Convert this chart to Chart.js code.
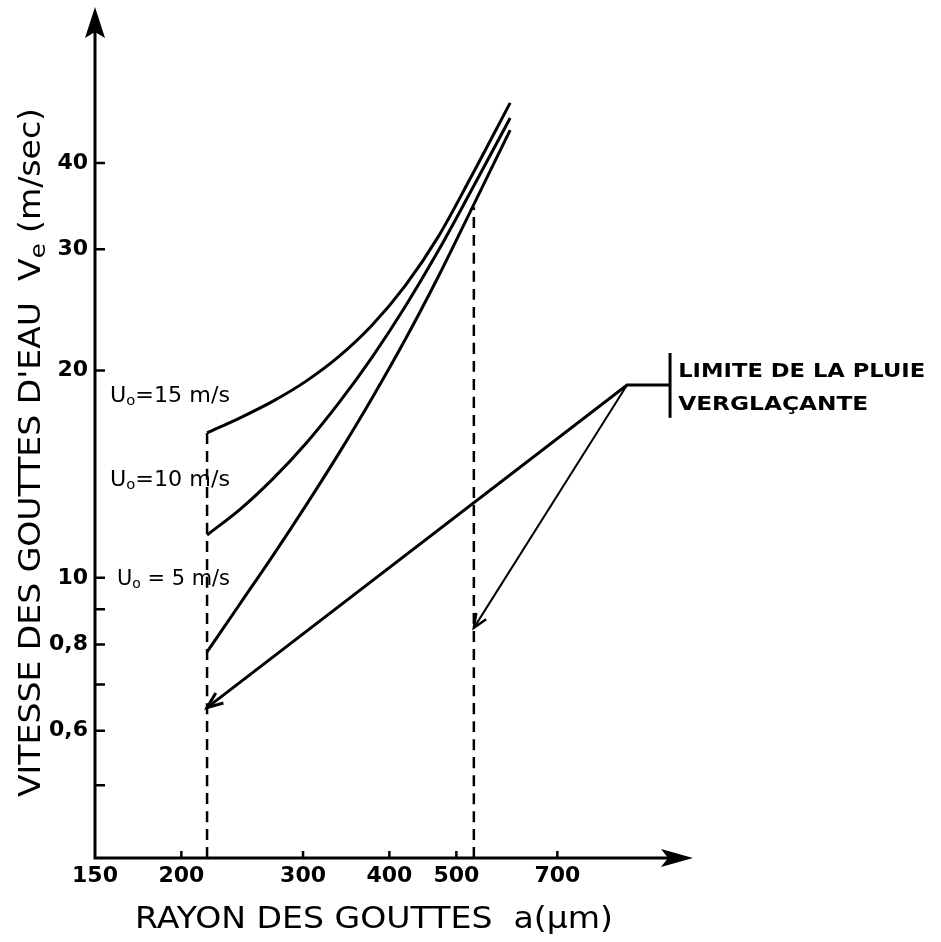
<!DOCTYPE html>
<html>
<head>
<meta charset="utf-8">
<script src="https://cdn.jsdelivr.net/npm/chart.js@4.4.1/dist/chart.umd.min.js"></script>
<style>
  html, body { margin: 0; padding: 0; background: #fff; }
  #wrap { width: 941px; height: 942px; position: relative; }
</style>
</head>
<body>
<div id="wrap"><canvas id="chart"></canvas></div>
<script>
// rayon a (µm) et vitesse Ve (m/s)
const radius    = [217.9, 243.2, 271.5, 303.1, 338.2, 377.5, 421.5, 470.3, 523.4, 598.2];
const speedU15  = [16.23, 17.07, 18.05, 19.30, 20.96, 23.26, 26.53, 31.23, 37.95, 48.92];
const speedU10  = [11.54, 12.57, 13.93, 15.68, 17.96, 20.90, 24.75, 29.78, 36.22, 46.50];
const speedU5   = [7.81, 9.17, 10.78, 12.75, 15.17, 18.23, 22.16, 27.31, 33.96, 44.67];

// limite de la pluie verglaçante
const limitRadius  = [217.9, 883, 1019];
const limitSpeed   = [6.48, 19.05, 19.05];
const branchRadius = [883, 530];
const branchSpeed  = [19.05, 8.46];
const barRadius    = [1019, 1019];
const barSpeed     = [17.07, 21.2];

// verticales en tirets
const dashLeftRadius  = [217.9, 217.9];
const dashLeftSpeed   = [3.92, 16.23];
const dashRightRadius = [530, 530];
const dashRightSpeed  = [3.92, 34.5];

// axes
const xTicks = [150, 200, 300, 400, 500, 700];
const yTicks = [5, 6, 7, 8, 9, 10, 20, 30, 40];
const yTickLabels = ['', '0,6', '', '0,8', '', '10', '20', '30', '40'];

const FONT = "'DejaVu Sans'";
const toPts = (xs, ys) => xs.map((x, i) => ({ x, y: ys[i] }));

const line = (data, extra) => Object.assign({
    data, borderColor: '#000', borderWidth: 3, pointRadius: 0,
    fill: false, cubicInterpolationMode: 'monotone'
}, extra || {});

// texte en plusieurs morceaux, étiré à une largeur donnée
function drawParts(ctx, parts, x, y, width) {
    let total = 0;
    parts.forEach(p => { ctx.font = p[1]; total += ctx.measureText(p[0]).width; });
    const k = width ? width / total : 1;
    ctx.save();
    ctx.translate(x, y);
    ctx.scale(k, 1);
    let cx = 0;
    parts.forEach(p => {
        ctx.font = p[1];
        ctx.fillText(p[0], cx, p[2] || 0);
        cx += ctx.measureText(p[0]).width;
    });
    ctx.restore();
}

function barbs(ctx, tip, from, len, ang) {
    const t = Math.atan2(tip.y - from.y, tip.x - from.x);
    ctx.beginPath();
    ctx.moveTo(tip.x - len * Math.cos(t - ang), tip.y - len * Math.sin(t - ang));
    ctx.lineTo(tip.x, tip.y);
    ctx.lineTo(tip.x - len * Math.cos(t + ang), tip.y - len * Math.sin(t + ang));
    ctx.stroke();
}

const decor = {
    id: 'decor',
    afterDraw(chart) {
        const { ctx, chartArea: a, scales: { x, y } } = chart;
        ctx.save();
        ctx.strokeStyle = '#000';
        ctx.fillStyle = '#000';
        ctx.lineWidth = 3;

        // axes + flèches
        ctx.beginPath();
        ctx.moveTo(a.left, a.bottom); ctx.lineTo(a.right - 20, a.bottom);
        ctx.moveTo(a.left, a.bottom + 1.5); ctx.lineTo(a.left, a.top + 20);
        ctx.stroke();
        ctx.beginPath();
        ctx.moveTo(a.right, a.bottom);
        ctx.lineTo(a.right - 32, a.bottom - 9);
        ctx.lineTo(a.right - 25, a.bottom);
        ctx.lineTo(a.right - 32, a.bottom + 9);
        ctx.closePath(); ctx.fill();
        ctx.beginPath();
        ctx.moveTo(a.left, a.top);
        ctx.lineTo(a.left - 10, a.top + 31);
        ctx.lineTo(a.left, a.top + 25);
        ctx.lineTo(a.left + 10, a.top + 31);
        ctx.closePath(); ctx.fill();

        // graduations vers l'intérieur
        ctx.lineWidth = 2.5;
        ctx.beginPath();
        yTicks.forEach(v => {
            const py = y.getPixelForValue(v);
            ctx.moveTo(a.left, py); ctx.lineTo(a.left + 10, py);
        });
        xTicks.slice(1).forEach(v => {
            const px = x.getPixelForValue(v);
            ctx.moveTo(px, a.bottom); ctx.lineTo(px, a.bottom - 7);
        });
        ctx.stroke();

        // pointes de flèche des limites
        const lim = chart.getDatasetMeta(3).data;
        ctx.lineWidth = 3;
        barbs(ctx, lim[0], lim[1], 17, 0.38);
        const br = chart.getDatasetMeta(4).data;
        ctx.lineWidth = 2.5;
        barbs(ctx, br[1], br[0], 15, 0.4);

        // textes
        ctx.textAlign = 'left';
        ctx.textBaseline = 'alphabetic';
        const fu = `21px ${FONT}`, fo = `14px ${FONT}`;
        const uLabels = [
            [157.7, 18.0, '=15 m/s', 120],
            [157.7, 13.6, '=10 m/s', 120],
            [161.4, 9.77, ' = 5 m/s', 113]
        ];
        uLabels.forEach(u => {
            drawParts(ctx, [['U', fu], ['o', fo, 3], [u[2], fu]],
                x.getPixelForValue(u[0]), y.getPixelForValue(u[1]), u[3]);
        });

        const fb = `bold 19px ${FONT}`;
        drawParts(ctx, [['LIMITE DE LA PLUIE', fb]],
            x.getPixelForValue(1047), y.getPixelForValue(19.6), 247);
        drawParts(ctx, [['VERGLAÇANTE', fb]],
            x.getPixelForValue(1047), y.getPixelForValue(17.5), 190);

        // titres des axes
        const ft = `30px ${FONT}`, fs = `22px ${FONT}`;
        drawParts(ctx, [['RAYON DES GOUTTES  a(μm)', ft]], 135, 928, 478);
        ctx.save();
        ctx.translate(40, 797);
        ctx.rotate(-Math.PI / 2);
        drawParts(ctx, [["VITESSE DES GOUTTES D'EAU  V", ft], ['e', fs, 5], [' (m/sec)', ft]], 0, 0, 689);
        ctx.restore();

        ctx.restore();
    }
};

new Chart(document.getElementById('chart'), {
    type: 'line',
    data: {
        datasets: [
            line(toPts(radius, speedU15)),
            line(toPts(radius, speedU10)),
            line(toPts(radius, speedU5)),
            line(toPts(limitRadius, limitSpeed), { cubicInterpolationMode: 'default', tension: 0 }),
            line(toPts(branchRadius, branchSpeed), { borderWidth: 2, tension: 0 }),
            line(toPts(barRadius, barSpeed), { tension: 0 }),
            line(toPts(dashLeftRadius, dashLeftSpeed), { borderWidth: 2.5, borderDash: [11, 7], tension: 0 }),
            line(toPts(dashRightRadius, dashRightSpeed), { borderWidth: 2.5, borderDash: [11, 7], tension: 0 })
        ]
    },
    options: {
        responsive: true,
        maintainAspectRatio: false,
        animation: false,
        devicePixelRatio: 1,
        layout: { padding: { top: 7, right: 248, left: 0, bottom: 0 } },
        plugins: { legend: { display: false }, tooltip: { enabled: false } },
        scales: {
            x: {
                type: 'logarithmic', min: 150, max: 1100,
                grid: { display: false, drawTicks: false },
                border: { display: false },
                afterBuildTicks: s => { s.ticks = xTicks.map(v => ({ value: v })); },
                afterFit: s => { s.height = 84; s.paddingLeft = 0; s.paddingRight = 0; },
                ticks: {
                    autoSkip: false, maxRotation: 0, padding: 5, color: '#000',
                    font: { family: 'DejaVu Sans', size: 22, weight: 'bold' },
                    callback: v => String(v)
                }
            },
            y: {
                type: 'logarithmic', min: 3.92, max: 67.4,
                grid: { display: false, drawTicks: false },
                border: { display: false },
                afterBuildTicks: s => { s.ticks = yTicks.map(v => ({ value: v })); },
                afterFit: s => { s.width = 95; s.paddingTop = 0; s.paddingBottom = 0; },
                ticks: {
                    autoSkip: false, padding: 7, color: '#000',
                    font: { family: 'DejaVu Sans', size: 22, weight: 'bold' },
                    callback: v => yTickLabels[yTicks.indexOf(v)] || ''
                }
            }
        }
    },
    plugins: [decor]
});
</script>
</body>
</html>
